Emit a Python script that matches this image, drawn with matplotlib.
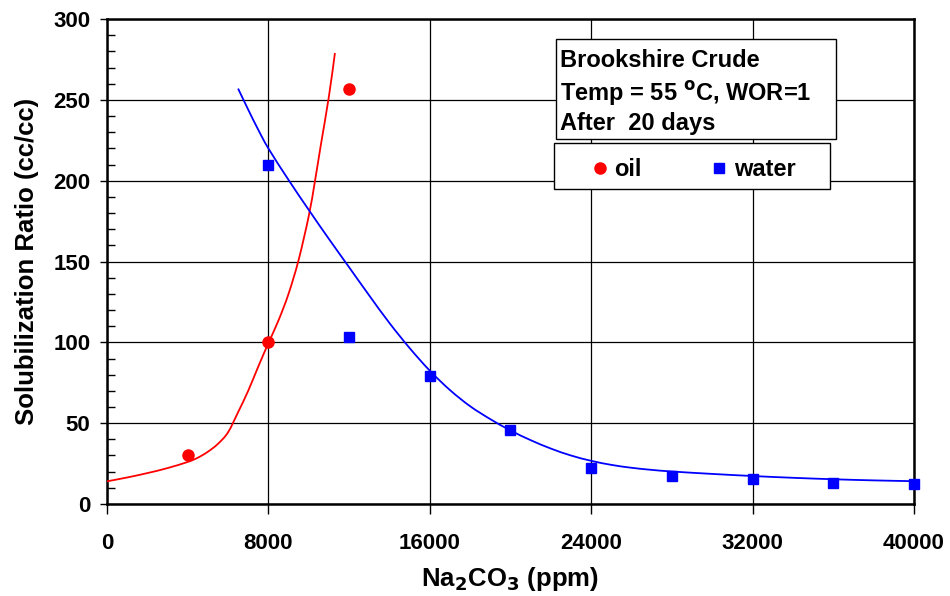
import matplotlib.pyplot as plt
from matplotlib.patches import Rectangle, PathPatch
from matplotlib.path import Path
from matplotlib.ticker import MultipleLocator

plt.rcParams['font.family'] = ['Liberation Sans', 'DejaVu Sans']
plt.rcParams['font.weight'] = 'bold'
plt.rcParams['mathtext.default'] = 'bf'

# measured points
oil_x = [4000, 8000, 12000]
oil_y = [30, 100, 257]
water_x = [8000, 12000, 16000, 20000, 24000, 28000, 32000, 36000, 40000]
water_y = [210, 103, 79, 46, 22, 17, 15.5, 13, 12.5]

# fitted trend lines
oil_fit_x = [0, 1000, 2000, 3000, 4000, 4500, 5000, 5500, 6000, 6500, 7000, 7500,
             8000, 8500, 9000, 9500, 10000, 10300, 10600, 11000, 11300]
oil_fit_y = [14, 16.4, 19.1, 22.2, 26, 28.6, 32.3, 37.2, 44.3, 56.8, 70, 85,
             99.5, 113.5, 130, 151, 178, 199, 222, 252, 279]
water_fit_x = [6500, 7000, 7500, 8000, 9000, 10000, 11000, 12000, 13000, 14000, 15000,
               16000, 17000, 18000, 19000, 20000, 21000, 22000, 23000, 24000, 25000,
               26000, 27000, 28000, 30000, 32000, 34000, 36000, 38000, 40000]
water_fit_y = [257, 244, 231.5, 220, 200.5, 182, 164, 146.5, 129, 112, 96.5,
               82.5, 70.5, 60.5, 52.5, 45.5, 39.5, 34.3, 30, 26.7, 24.2,
               22.4, 21.1, 20.1, 18.6, 17.3, 16.2, 15.3, 14.6, 14.1]


def smooth_path(xs, ys):
    # catmull-rom through the read points, like a spreadsheet "smoothed line"
    pts = list(zip(xs, ys))
    verts = [pts[0]]
    codes = [Path.MOVETO]
    n = len(pts)
    for i in range(n - 1):
        p0 = pts[i - 1] if i > 0 else pts[i]
        p1 = pts[i]
        p2 = pts[i + 1]
        p3 = pts[i + 2] if i + 2 < n else pts[i + 1]
        c1 = (p1[0] + (p2[0] - p0[0]) / 6, p1[1] + (p2[1] - p0[1]) / 6)
        c2 = (p2[0] - (p3[0] - p1[0]) / 6, p2[1] - (p3[1] - p1[1]) / 6)
        verts += [c1, c2, p2]
        codes += [Path.CURVE4] * 3
    return Path(verts, codes)


fig = plt.figure(figsize=(9.5, 5.96), dpi=100)
ax = fig.add_axes([0.1126, 0.1544, 0.8494, 0.8136])

ax.add_patch(PathPatch(smooth_path(oil_fit_x, oil_fit_y), fc='none', ec='red', lw=1.3, zorder=3))
ax.add_patch(PathPatch(smooth_path(water_fit_x, water_fit_y), fc='none', ec='blue', lw=1.3, zorder=3))
ax.plot(oil_x, oil_y, 'o', color='red', ms=8, label='oil', zorder=4, clip_on=False)
ax.plot(water_x, water_y, 's', color='blue', ms=7.5, label='water', zorder=4, clip_on=False)

ax.set_xlim(0, 40000)
ax.set_ylim(0, 300)
ax.xaxis.set_major_locator(MultipleLocator(8000))
ax.yaxis.set_major_locator(MultipleLocator(50))
ax.yaxis.set_minor_locator(MultipleLocator(10))
ax.grid(True, which='major', color='black', lw=0.9)
ax.set_axisbelow(True)
ax.tick_params(axis='both', which='major', labelsize=16, direction='out', width=1)
ax.tick_params(axis='y', which='major', length=5, pad=7)
ax.tick_params(axis='x', which='major', length=7, pad=14)
ax.tick_params(axis='y', which='minor', direction='in', length=6, width=1)
for s in ax.spines.values():
    s.set_linewidth(1.8)

ax.set_xlabel('Na$_2$CO$_3$ (ppm)', fontsize=18.5, fontweight='bold', labelpad=8)
ax.set_ylabel('Solubilization Ratio (cc/cc)', fontsize=18.5, fontweight='bold', labelpad=10)

# info box
ax.add_patch(Rectangle((0.556, 0.753), 0.347, 0.206, transform=ax.transAxes,
                       fc='white', ec='black', lw=1, zorder=5))
lines = ['Brookshire Crude', 'Temp = 55 $^{o}$C, WOR=1', 'After  20 days']
for txt, yb in zip(lines, [0.902, 0.832, 0.772]):
    ax.text(0.5613, yb, txt, transform=ax.transAxes, fontsize=17, fontweight='bold',
            va='baseline', ha='left', zorder=6)

# legend box
ax.add_patch(Rectangle((0.5545, 0.6495), 0.342, 0.0945, transform=ax.transAxes,
                       fc='white', ec='black', lw=1, zorder=5))
leg = ax.legend(loc='center left', bbox_to_anchor=(0.5993, 0.690), ncol=2, fontsize=17,
                frameon=False, borderpad=0, borderaxespad=0,
                handletextpad=0.2, columnspacing=2.9, handlelength=0.8)
leg.set_zorder(7)
for t in leg.get_texts():
    t.set_fontweight('bold')

fig.savefig('out.png', dpi=100)
